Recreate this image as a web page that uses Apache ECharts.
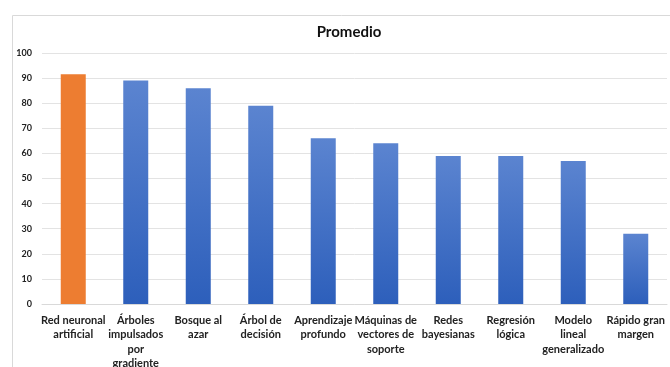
<!DOCTYPE html>
<html><head><meta charset="utf-8">
<script src="https://cdn.jsdelivr.net/npm/echarts@6/dist/echarts.min.js"></script>
<style>html,body{margin:0;padding:0;background:#fff}#c{width:670px;height:367px}</style>
</head><body><div id="c"></div>
<script>
const categories = ["Red neuronal\nartificial","Árboles\nimpulsados\npor\ngradiente","Bosque al\nazar","Árbol de\ndecisión","Aprendizaje\nprofundo","Máquinas de\nvectores de\nsoporte","Redes\nbayesianas","Regresión\nlógica","Modelo\nlineal\ngeneralizado","Rápido gran\nmargen"];
const values = [91.5, 89, 86, 79, 66, 64, 59, 59, 57, 28];
const yTicks = [0,10,20,30,40,50,60,70,80,90,100];
const highlightIndex = 0;

const chart = echarts.init(document.getElementById('c'));
const blue = new echarts.graphic.LinearGradient(0,0,0,1,[{offset:0,color:'#5b84d0'},{offset:1,color:'#2d5fbb'}]);
chart.setOption({
  animation:false,
  title:{text:'Promedio',left:344,top:20,textAlign:'center',textStyle:{fontFamily:'Lato',fontWeight:'bold',fontSize:15,color:'#111'}},
  graphic:[{type:'rect',shape:{x:12.5,y:15.5,width:700,height:400},style:{fill:'none',stroke:'#d9d9d9',lineWidth:1},silent:true}],
  grid:{left:42,right:3,top:53,bottom:63,containLabel:false,outerBoundsMode:'none'},
  xAxis:{type:'category',data:categories,
    axisLine:{lineStyle:{color:'#d9d9d9'}},axisTick:{show:false},
    axisLabel:{interval:0,fontFamily:'Lato',fontWeight:'bold',fontSize:11,color:'#222',lineHeight:14.5,margin:9}},
  yAxis:{type:'value',min:yTicks[0],max:yTicks[yTicks.length-1],interval:10,
    axisLine:{show:false},axisTick:{show:false},
    splitLine:{lineStyle:{color:'#e3e3e3'}},
    axisLabel:{fontFamily:'Lato',fontWeight:'bold',fontSize:9,color:'#222',margin:10}},
  series:[{type:'bar',barWidth:'40%',
    data:values.map((v,i)=>({value:v,itemStyle:{color:i===highlightIndex?'#ed7d31':blue}}))}]
});
</script></body></html>
